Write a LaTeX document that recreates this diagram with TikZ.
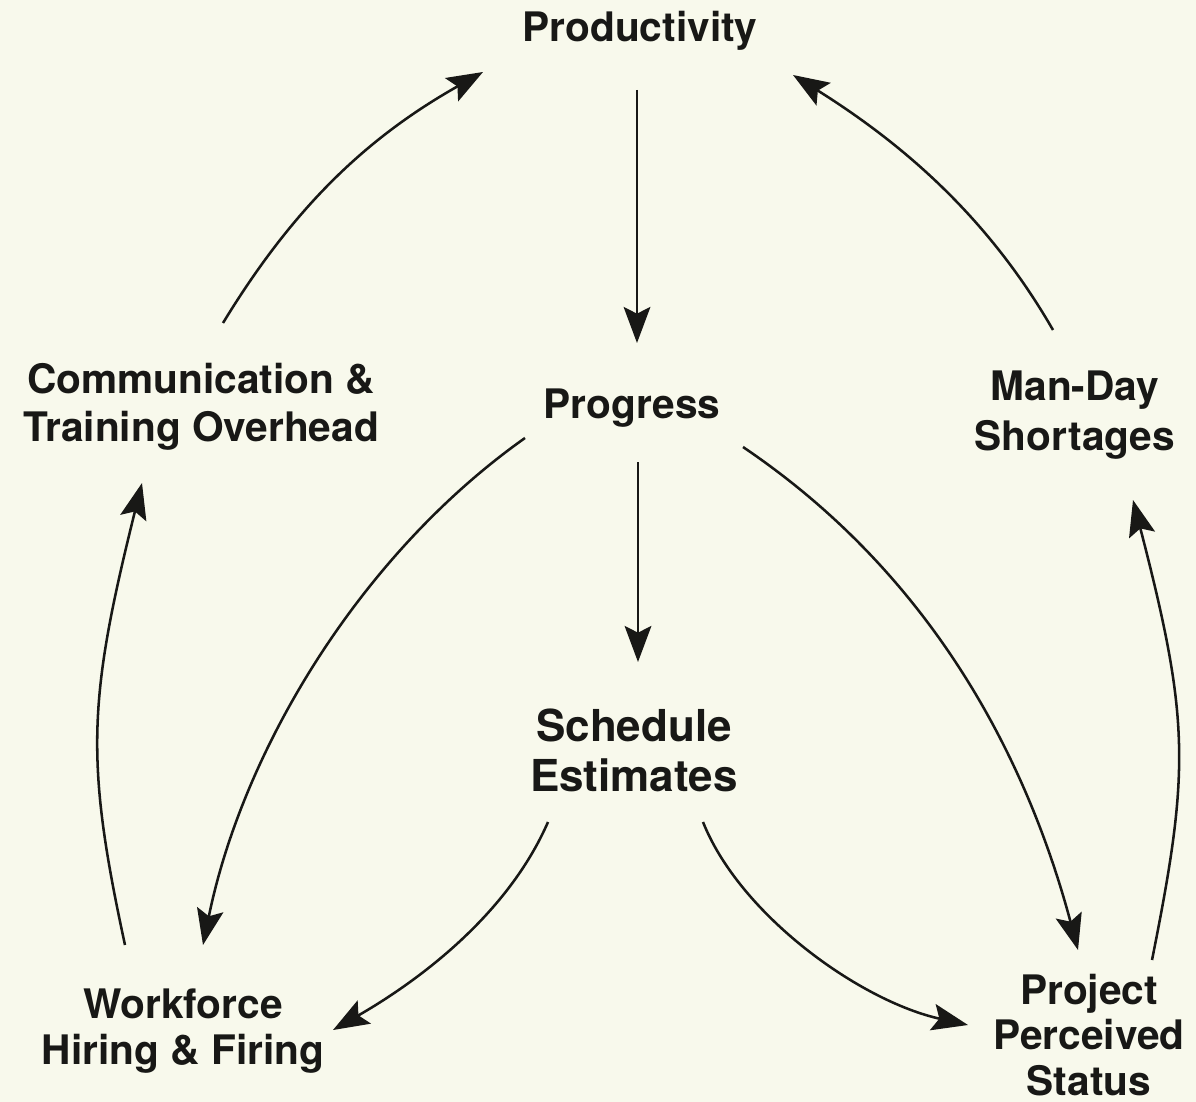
\documentclass[tikz,border=0pt]{standalone}
\usepackage{fontspec}
\setmainfont{TeX Gyre Heros}
\usetikzlibrary{arrows.meta,calc}
\definecolor{paper}{RGB}{248,249,236}
\definecolor{ink}{RGB}{24,24,22}

\begin{document}
\begin{tikzpicture}[x=0.75pt,y=0.75pt,yscale=-1,xscale=1,
  lbl/.style={inner sep=0pt,align=center,text=ink,font=\fontsize{30.5}{36}\selectfont\bfseries},
  tip/.tip={Stealth[length=27pt,width=20pt,inset=5pt]},
  flow/.style={draw=ink,line width=1.9pt,-tip}]
%set diagram size, 1196 x 1102
\fill[paper] (0,0) rectangle (1196,1102);

% Text Nodes
\node[lbl] (prod) at (640,31) {Productivity};
\node[lbl] (prog) at (632,408) {Progress};
\node[lbl,font=\fontsize{33}{37.5}\selectfont\bfseries] (sched) at (634,750) {Schedule\\Estimates};
\node[lbl] (comm) at (201,407) {Communication \&\\Training Overhead};
\node[lbl,font=\fontsize{30.5}{37.5}\selectfont\bfseries] (manday) at (1075,415) {Man-Day\\Shortages};
\node[lbl,font=\fontsize{30.5}{35}\selectfont\bfseries] (work) at (183,1031) {Workforce\\Hiring \& Firing};
\node[lbl,font=\fontsize{30.5}{34}\selectfont\bfseries] (proj) at (1089,1035) {Project\\Perceived\\Status};

% Straight Lines
\draw[flow] ($(prod)+(-3,59)$) -- ($(prog)+(5,-65)$);
\draw[flow] ($(prog)+(6,54)$) -- ($(sched)+(4,-88)$);

% Curves, outer loop
\draw[flow] ($(comm)+(22,-84)$) .. controls +(70,-115) and +(-117,66) .. ($(prod)+(-157,41)$);
\draw[flow] ($(manday)+(-22,-85)$) .. controls +(-65,-113) and +(110,69) .. ($(prod)+(153,44)$);
\draw[flow] ($(work)+(-58,-86)$) .. controls +(-40,-185) and +(-54,217) .. ($(comm)+(-59,76)$);
\draw[flow] ($(proj)+(63,-75)$) .. controls +(38,-190) and +(57,220) .. ($(manday)+(58,85)$);

% Curves, inner
\draw[flow] ($(prog)+(-107,30)$) .. controls +(-164,116) and +(40,-196) .. ($(work)+(20,-86)$);
\draw[flow] ($(prog)+(111,39)$) .. controls +(197,133) and +(-48,-180) .. ($(proj)+(-11,-85)$);
\draw[flow] ($(sched)+(-86,72)$) .. controls +(-40,92) and +(87,-50) .. ($(work)+(150,-1)$);
\draw[flow] ($(sched)+(69,72)$) .. controls +(37,93) and +(-108,-24) .. ($(proj)+(-121,-10)$);

\end{tikzpicture}
\end{document}
